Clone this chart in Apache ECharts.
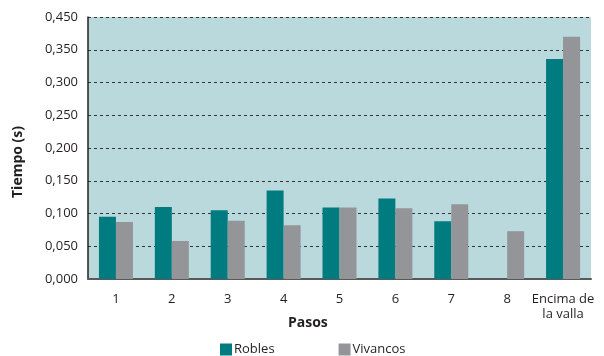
<!DOCTYPE html>
<html>
<head>
<meta charset="utf-8">
<script src="https://cdn.jsdelivr.net/npm/echarts@6/dist/echarts.min.js"></script>
<style>
  html, body { margin: 0; padding: 0; background: #ffffff; }
  #chart { width: 604px; height: 356px; }
</style>
</head>
<body>
<div id="chart"></div>
<script>
// Tiempo por paso de vallas: Robles vs. Vivancos
const categories = ['1', '2', '3', '4', '5', '6', '7', '8', 'Encima de\nla valla'];
const robles   = [0.095, 0.110, 0.105, 0.135, 0.109, 0.123, 0.088, null, 0.336];
const vivancos = [0.087, 0.058, 0.089, 0.082, 0.109, 0.108, 0.114, 0.073, 0.370];
const yTickLabels = ['0,000', '0,050', '0,100', '0,150', '0,200', '0,250', '0,300', '0,350', '0,450'];

const FONT = '"Open Sans", "Liberation Sans", sans-serif';
const TEAL = '#007b80';
const GREY = '#939598';

const chart = echarts.init(document.getElementById('chart'), null, { renderer: 'canvas' });

chart.setOption({
  animation: false,
  textStyle: { fontFamily: FONT },
  grid: {
    left: 88, right: 13, top: 17, bottom: 77,
    show: true, backgroundColor: '#bad9dc', borderWidth: 0
  },
  legend: {
    left: 215, top: 338,
    itemWidth: 12, itemHeight: 12, itemGap: 64,
    icon: 'rect',
    textStyle: { fontFamily: FONT, fontSize: 13, color: '#231f20', padding: [0, 0, 0, -3] },
    data: ['Robles', 'Vivancos']
  },
  xAxis: {
    type: 'category',
    data: categories,
    axisLine: { show: true, lineStyle: { color: '#58595b', width: 2 } },
    axisTick: { show: false },
    axisLabel: {
      fontFamily: FONT, fontSize: 13, color: '#231f20',
      margin: 13, lineHeight: 15, interval: 0
    }
  },
  yAxis: {
    type: 'value',
    min: 0, max: 0.4, interval: 0.05,
    axisLine: { show: true, lineStyle: { color: '#231f20', width: 1.5 } },
    axisTick: { show: false },
    axisLabel: {
      fontFamily: FONT, fontSize: 13, color: '#231f20', margin: 10,
      formatter: function (v) {
        const i = Math.round(v / 0.05);
        return yTickLabels[i] !== undefined ? yTickLabels[i] : '';
      }
    },
    splitLine: { show: true, lineStyle: { color: '#333333', width: 1, type: [3, 3] } }
  },
  graphic: [
    {
      type: 'text', left: 288, top: 316,
      style: { text: 'Pasos', font: 'bold 14px ' + FONT, fill: '#231f20' }
    },
    {
      type: 'text', x: 11, y: 198, rotation: Math.PI / 2,
      style: { text: 'Tiempo (s)', font: 'bold 14px ' + FONT, fill: '#231f20' }
    }
  ],
  series: [
    {
      name: 'Robles', type: 'bar', data: robles,
      barWidth: 17, barGap: '0%',
      itemStyle: { color: TEAL }
    },
    {
      name: 'Vivancos', type: 'bar', data: vivancos,
      barWidth: 17, barGap: '0%',
      itemStyle: { color: GREY }
    }
  ]
});
</script>
</body>
</html>
